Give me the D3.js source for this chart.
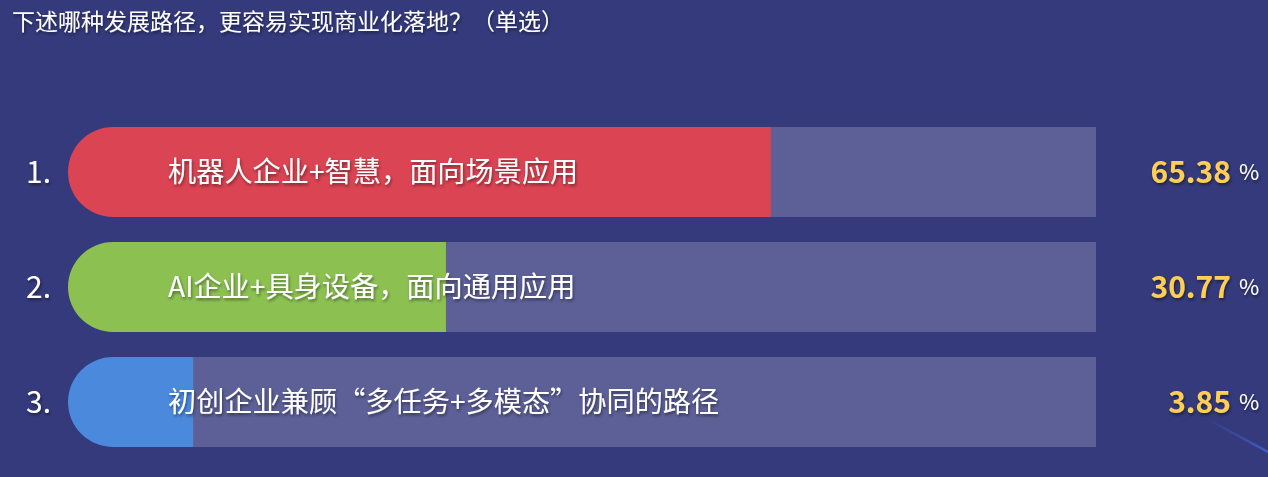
<!DOCTYPE html>
<html>
<head>
<meta charset="utf-8">
<script src="https://cdn.jsdelivr.net/npm/d3@7"></script>
<style>
  html, body { margin: 0; padding: 0; background: #343a7b; overflow: hidden; }
  svg { display: block; font-family: "Noto Sans CJK SC", "Noto Sans", sans-serif; }
</style>
</head>
<body>
<svg id="chart"></svg>
<script>
const title = '下述哪种发展路径，更容易实现商业化落地？（单选）'
const ranks = ['1.', '2.', '3.']
const options = [
  '机器人企业+智慧，面向场景应用',
  'AI企业+具身设备，面向通用应用',
  '初创企业兼顾“多任务+多模态”协同的路径'
]
const shares = [65.38, 30.77, 3.85]
const barColors = ['#da4453', '#8cc152', '#4a89dc']

function drawChart() {
  const width = 1268
  const height = 477
  const capWidth = 89

  const svg = d3.select('#chart')
    .attr('width', width)
    .attr('height', height)

  const defs = svg.append('defs')
  const shadow = defs.append('filter')
    .attr('id', 'txtShadow')
    .attr('x', '-10%').attr('y', '-30%')
    .attr('width', '120%').attr('height', '160%')
  shadow.append('feDropShadow')
    .attr('dx', 1).attr('dy', 2)
    .attr('stdDeviation', 1.5)
    .attr('flood-color', '#000')
    .attr('flood-opacity', 0.45)

  const glow = defs.append('linearGradient')
    .attr('id', 'streak')
    .attr('x1', '0%').attr('x2', '100%')
  glow.append('stop').attr('offset', '0%').attr('stop-color', '#3d5bc4').attr('stop-opacity', 0)
  glow.append('stop').attr('offset', '60%').attr('stop-color', '#3d5bc4').attr('stop-opacity', 0.6)
  glow.append('stop').attr('offset', '100%').attr('stop-color', '#4866d6').attr('stop-opacity', 0.8)

  svg.append('rect')
    .attr('width', width)
    .attr('height', height)
    .attr('fill', '#343a7b')

  // faint decorative streak bottom right
  svg.append('line')
    .attr('x1', 1205).attr('y1', 418)
    .attr('x2', 1268).attr('y2', 452)
    .attr('stroke', 'url(#streak)')
    .attr('stroke-width', 2.5)

  svg.append('text')
    .text(title)
    .attr('x', 12)
    .attr('y', 30)
    .attr('fill', '#ffffff')
    .attr('font-size', 23)
    .attr('filter', 'url(#txtShadow)')

  const xScale = d3.scaleLinear()
    .domain([0, 100])
    .range([157, 1096])

  const yScale = d3.scaleBand()
    .domain(options)
    .range([127, 447])
    .paddingInner(0.2174)
    .paddingOuter(0)

  const bh = yScale.bandwidth()
  const r = bh / 2

  const rows = svg.selectAll('g.row')
    .data(options.map((o, i) => ({ label: o, rank: ranks[i], value: shares[i], color: barColors[i] })))
    .join('g')
    .attr('class', 'row')
    .attr('transform', d => `translate(0, ${yScale(d.label)})`)

  // track
  rows.append('rect')
    .attr('x', xScale(0))
    .attr('width', xScale(100) - xScale(0))
    .attr('height', bh)
    .attr('fill', '#5d6097')

  // coloured bar with rounded left cap
  rows.append('path')
    .attr('fill', d => d.color)
    .attr('d', d => {
      const x0 = xScale(0) - capWidth
      const x1 = xScale(d.value)
      const p = d3.path()
      p.moveTo(x1, 0)
      p.lineTo(x0 + r, 0)
      p.arcTo(x0, 0, x0, r, r)
      p.arcTo(x0, bh, x0 + r, bh, r)
      p.lineTo(x1, bh)
      p.closePath()
      return p.toString()
    })

  rows.append('text')
    .text(d => d.rank)
    .attr('x', 26)
    .attr('y', bh / 2)
    .attr('dy', '0.36em')
    .attr('fill', '#ffffff')
    .attr('font-size', 30)
    .attr('filter', 'url(#txtShadow)')

  rows.append('text')
    .text(d => d.label)
    .attr('x', 168)
    .attr('y', bh / 2)
    .attr('dy', '0.36em')
    .attr('fill', '#ffffff')
    .attr('font-size', 28.2)
    .attr('filter', 'url(#txtShadow)')

  rows.append('text')
    .text(d => d.value.toFixed(2))
    .attr('x', 1231)
    .attr('y', bh / 2)
    .attr('dy', '0.36em')
    .attr('text-anchor', 'end')
    .attr('fill', '#ffce54')
    .attr('font-weight', 'bold')
    .attr('font-size', 30)
    .attr('filter', 'url(#txtShadow)')

  rows.append('text')
    .text('%')
    .attr('x', 1239)
    .attr('y', bh / 2)
    .attr('dy', '0.36em')
    .attr('fill', '#ffffff')
    .attr('font-size', 22)
    .attr('filter', 'url(#txtShadow)')
}

drawChart()
</script>
</body>
</html>
